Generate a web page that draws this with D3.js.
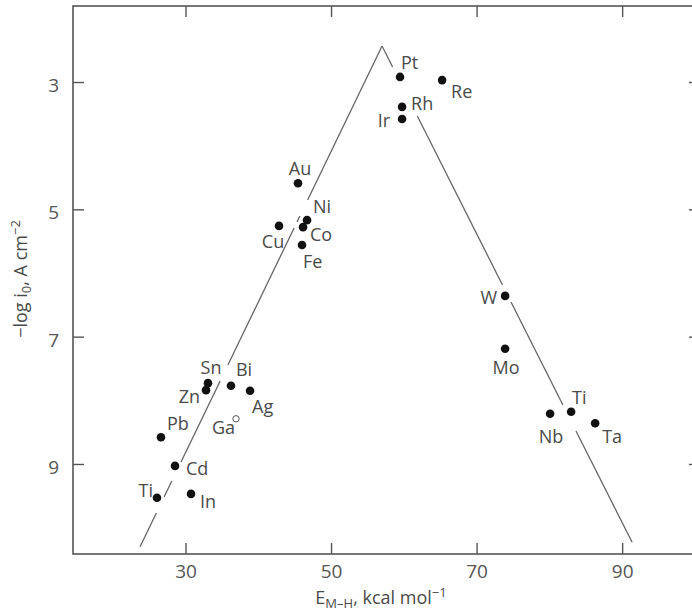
<!DOCTYPE html>
<html>
<head>
<meta charset="utf-8">
<script src="https://cdn.jsdelivr.net/npm/d3@7"></script>
<style>
  html, body { margin: 0; padding: 0; background: #fff; }
  svg { display: block; font-family: "Open Sans", "Noto Sans", sans-serif; }
</style>
</head>
<body>
<svg id="chart" width="692" height="612"></svg>
<script>
// ---- data ----
const metals     = ["Pt","Re","Rh","Ir","W","Mo","Ti","Nb","Ta","Au","Ni","Co","Cu","Fe","Sn","Zn","Bi","Ag","Ga","Pb","Cd","Ti","In"];
const bondEnergy = [59.48,65.26,59.76,59.76,73.92,73.92,82.99,80.10,86.29,45.46,46.70,46.15,42.85,46.01,33.09,32.82,36.25,38.87,36.94,26.63,28.56,26.08,30.76];
const logI0      = [2.92,2.97,3.39,3.58,6.36,7.19,8.18,8.21,8.36,4.59,5.17,5.28,5.26,5.56,7.73,7.84,7.77,7.85,8.29,8.58,9.03,9.53,9.47];
const openMarker = ["Ga"];
// volcano lines (data coordinates) and visible stretches along -log i0
const volcanoLeft  = [[23.75,10.30],[57.01,2.435]];
const volcanoRight = [[57.01,2.435],[91.37,10.23]];
const leftPieces   = [[2.435,4.853],[5.105,5.199],[5.293,7.445],[7.696,8.968],[9.267,9.518],[9.769,10.30]];
const rightPieces  = [[2.435,2.764],[3.534,6.188],[6.455,8.073],[8.481,10.23]];
const xTicks = [30,50,70,90];
const yTicks = [3,5,7,9];

// ---- label placement (presentation) ----
const labelPlace = [
  [1,-8,"start"],[9,18,"start"],[9,3,"start"],[-12,8,"end"],[-8,8,"end"],[1,25,"middle"],
  [1,-8,"start"],[1,29,"middle"],[7,20,"start"],[2,-8,"middle"],[6,-7,"start"],[7,14,"start"],
  [-6,22,"middle"],[1,23,"start"],[3,-9,"middle"],[-6,13,"end"],[5,-10,"start"],[2,22,"start"],
  [-1,15,"end"],[6,-7,"start"],[11,9,"start"],[-4,-1,"end"],[9,14,"start"]
];

const svg = d3.select("#chart");
const x = d3.scaleLinear().domain([14.54, 100.7]).range([73, 700]);
const y = d3.scaleLinear().domain([1.806, 10.414]).range([6, 554]);

const axisColor = "#555";
const textColor = "#4a4a4a";

// frame
svg.append("rect")
  .attr("x", x(14.54)).attr("y", y(1.806))
  .attr("width", x(100.7) - x(14.54)).attr("height", y(10.414) - y(1.806))
  .attr("fill", "none").attr("stroke", axisColor).attr("stroke-width", 1.6);

// axes with inward ticks
const gB = svg.append("g").attr("transform", `translate(0,${y(10.414)})`)
  .call(d3.axisBottom(x).tickValues(xTicks).tickSizeInner(-11).tickSizeOuter(0).tickPadding(11));
const gT = svg.append("g").attr("transform", `translate(0,${y(1.806)})`)
  .call(d3.axisTop(x).tickValues(xTicks).tickSizeInner(-11).tickSizeOuter(0).tickFormat(""));
const gL = svg.append("g").attr("transform", `translate(${x(14.54)},0)`)
  .call(d3.axisLeft(y).tickValues(yTicks).tickSizeInner(-11).tickSizeOuter(0).tickPadding(14));
const gR = svg.append("g").attr("transform", `translate(${x(100.7)},0)`)
  .call(d3.axisRight(y).tickValues(yTicks).tickSizeInner(-11).tickSizeOuter(0).tickFormat(""));
[gB, gT, gL, gR].forEach(g => {
  g.select(".domain").remove();
  g.selectAll(".tick line").attr("stroke", axisColor).attr("stroke-width", 1.4);
  g.selectAll(".tick text").attr("fill", "#555").attr("font-size", 19)
    .attr("font-family", "'Open Sans', sans-serif");
});
gL.selectAll(".tick text").attr("dy", "0.5em");

// volcano lines with breaks
function pieces(line, parts) {
  const [[x0,y0],[x1,y1]] = line;
  const xAt = v => x0 + (v - y0) * (x1 - x0) / (y1 - y0);
  return parts.map(([a,b]) => [[xAt(a), a], [xAt(b), b]]);
}
const lineGen = d3.line().x(d => x(d[0])).y(d => y(d[1]));
svg.append("g").selectAll("path")
  .data(pieces(volcanoLeft, leftPieces).concat(pieces(volcanoRight, rightPieces)))
  .join("path")
  .attr("d", lineGen)
  .attr("fill", "none").attr("stroke", "#666").attr("stroke-width", 1.3);

// points
const pts = metals.map((m,i) => ({m, e: bondEnergy[i], v: logI0[i], p: labelPlace[i]}));
svg.append("g").selectAll("circle")
  .data(pts).join("circle")
  .attr("cx", d => x(d.e)).attr("cy", d => y(d.v))
  .attr("r", d => openMarker.includes(d.m) ? 3.2 : 4.3)
  .attr("fill", d => openMarker.includes(d.m) ? "#fff" : "#111")
  .attr("stroke", d => openMarker.includes(d.m) ? "#555" : "none")
  .attr("stroke-width", 1);

svg.append("g").selectAll("text")
  .data(pts).join("text")
  .attr("x", d => x(d.e) + d.p[0]).attr("y", d => y(d.v) + d.p[1])
  .attr("text-anchor", d => d.p[2])
  .attr("font-size", 18).attr("fill", textColor)
  .text(d => d.m);

// axis titles
const xt = svg.append("text")
  .attr("x", 381).attr("y", 604).attr("text-anchor", "middle")
  .attr("font-size", 18).attr("fill", textColor);
xt.append("tspan").text("E");
xt.append("tspan").attr("font-size", 13).attr("dy", 4).text("M\u2013H");
xt.append("tspan").attr("dy", -4).text(", kcal mol");
xt.append("tspan").attr("font-size", 13).attr("dy", -7).text("\u22121");

const yt = svg.append("text")
  .attr("transform", "translate(27,279) rotate(-90)")
  .attr("text-anchor", "middle")
  .attr("font-size", 18).attr("fill", textColor);
yt.append("tspan").text("\u2212log i");
yt.append("tspan").attr("font-size", 13).attr("dy", 4).text("0");
yt.append("tspan").attr("dy", -4).text(", A cm");
yt.append("tspan").attr("font-size", 13).attr("dy", -7).text("\u22122");
</script>
</body>
</html>
